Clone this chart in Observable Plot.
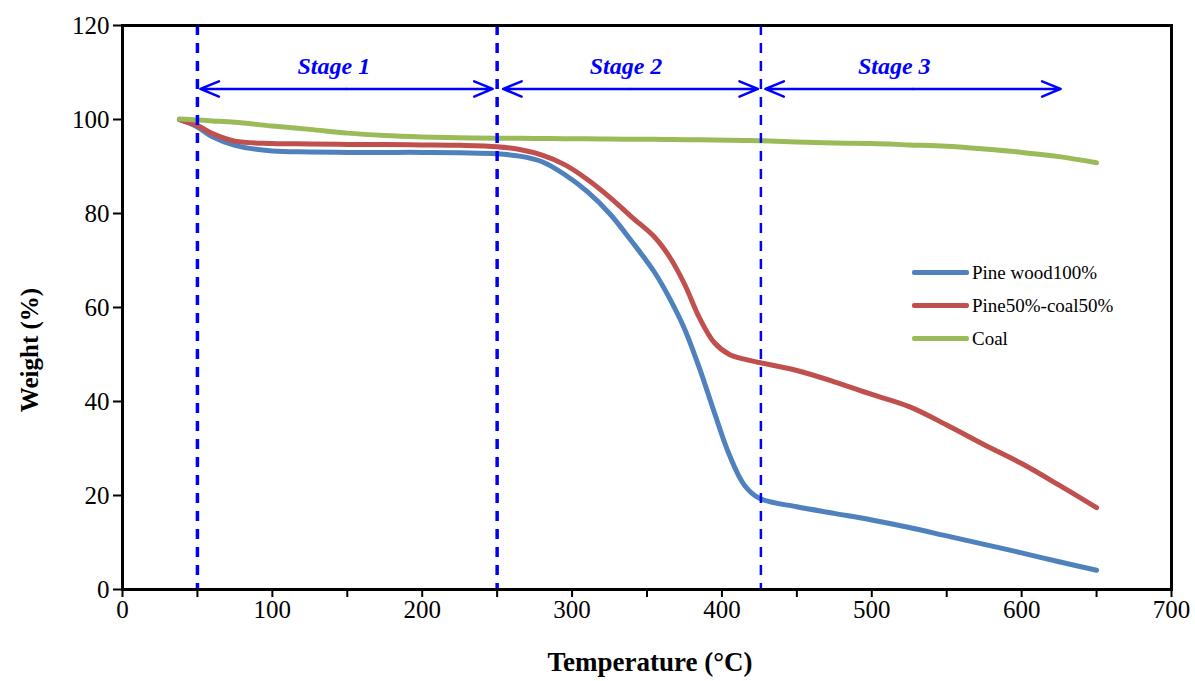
<!DOCTYPE html>
<html><head><meta charset="utf-8">
<script src="https://cdn.jsdelivr.net/npm/d3@7"></script>
<script src="https://cdn.jsdelivr.net/npm/@observablehq/plot@0.6"></script>
<style>
body{margin:0;background:#fff;}
#wrap{position:relative;width:1195px;height:681px;}
.legend{position:absolute;left:912px;top:256px;font-family:"Liberation Serif",serif;font-size:19px;color:#000;}
.legend div{display:flex;align-items:center;height:33px;}
.legend span.sw{display:inline-block;width:57px;height:5px;margin-right:3px;border-radius:2px;}
</style></head><body><div id="wrap"><div id="chart"></div><div class="legend" id="legend"></div></div>
<script>
// ---- data ----
const temps = [38, 50, 60, 75, 100, 125, 150, 175, 200, 225, 250, 265, 280, 295, 310, 325, 340, 355, 365, 375, 385, 395, 405, 415, 425, 450, 475, 500, 525, 550, 575, 600, 625, 650];
const pineWood = [100, 98.4, 96.3, 94.5, 93.3, 93.1, 93.0, 93.0, 93.0, 92.9, 92.7, 92.2, 91.0, 88.3, 84.7, 80.0, 74.0, 67.5, 62.0, 55.5, 47.1, 37.6, 28.6, 22.2, 19.4, 17.6, 16.2, 14.8, 13.2, 11.4, 9.6, 7.8, 5.9, 4.1];
const pineCoal = [100, 98.7, 97.0, 95.4, 94.9, 94.8, 94.7, 94.7, 94.6, 94.5, 94.2, 93.6, 92.4, 90.4, 87.3, 83.5, 79.2, 75.0, 70.8, 65.0, 57.8, 52.5, 50.0, 49.0, 48.3, 46.6, 44.2, 41.5, 38.9, 35.0, 30.8, 26.8, 22.2, 17.4];
const coal = [100.1, 99.9, 99.7, 99.4, 98.6, 97.9, 97.1, 96.6, 96.3, 96.1, 96.0, 96.0, 95.95, 95.9, 95.9, 95.85, 95.8, 95.8, 95.75, 95.7, 95.7, 95.65, 95.6, 95.55, 95.5, 95.2, 95.0, 94.9, 94.6, 94.3, 93.7, 93.0, 92.1, 90.8];
const seriesNames = ["Pine wood100%", "Pine50%-coal50%", "Coal"];
const seriesColors = ["#4F81BD", "#C0504D", "#9BBB59"];

const boundaryTemps = [50, 250, 426];
const boundaryWidths = [3.5, 3.5, 2.5];
const stageNames = ["Stage 1", "Stage 2", "Stage 3"];
const stageStart = [52, 254, 429];
const stageEnd = [247, 424, 626];
const stageLabelX = [141, 336, 515];
const arrowY = 106.5;
const labelY = 111.3;

const xTicks = d3.range(0, 701, 50);
const yTicks = d3.range(0, 121, 20);

// ---- build tables ----
const allSeries = [pineWood, pineCoal, coal];
const rows = [];
allSeries.forEach((vals, s) => temps.forEach((t, i) => rows.push({t, w: vals[i], s: seriesNames[s]})));
const bounds = boundaryTemps.map((x, i) => ({x, sw: boundaryWidths[i]}));
const stages = stageNames.map((n, i) => ({n, a: stageStart[i], b: stageEnd[i], m: (stageStart[i] + stageEnd[i]) / 2, lx: stageLabelX[i]}));

const font = '"Liberation Serif", "Times New Roman", serif';
const chart = Plot.plot({
  width: 1195, height: 681,
  marginLeft: 122, marginRight: 24, marginTop: 25, marginBottom: 92,
  style: {fontFamily: font, fontSize: "25px", color: "#000", background: "#fff"},
  x: {domain: [0, 700]},
  y: {domain: [0, 120]},
  color: {domain: seriesNames, range: seriesColors},
  marks: [
    Plot.line(rows, {x: "t", y: "w", z: "s", stroke: "s", strokeWidth: 5, curve: "catmull-rom"}),
    Plot.ruleX(bounds, {x: "x", stroke: "#0000FF", strokeWidth: "sw", strokeDasharray: "10,8"}),
    Plot.arrow(stages, {x1: "m", x2: "a", y1: arrowY, y2: arrowY, stroke: "#0000FF", strokeWidth: 2.5, headLength: 12, headAngle: 45}),
    Plot.arrow(stages, {x1: "m", x2: "b", y1: arrowY, y2: arrowY, stroke: "#0000FF", strokeWidth: 2.5, headLength: 12, headAngle: 45}),
    Plot.text(stages, {x: "lx", y: labelY, text: "n", fill: "#0000FF", fontStyle: "italic", fontWeight: "bold", fontSize: 24, fontFamily: font}),
    Plot.frame({stroke: "#000", strokeWidth: 3}),
    Plot.axisX({ticks: xTicks, tickFormat: d => d % 100 === 0 ? d : "", tickSize: 8, tickPadding: 3, strokeWidth: 2, label: null, fontSize: 25, fontFamily: font}),
    Plot.axisY({ticks: yTicks, tickSize: 9, tickPadding: 4, strokeWidth: 2, label: null, fontSize: 25, fontFamily: font})
  ]
});
document.getElementById("chart").appendChild(chart);

// ensure tick label size
d3.select(chart).selectAll("g[aria-label='x-axis tick label'], g[aria-label='y-axis tick label']")
  .attr("font-size", 25).attr("font-family", font);

// axis titles
const svg = d3.select(chart);
svg.append("text").attr("x", 650).attr("y", 671).attr("text-anchor", "middle")
  .attr("font-family", font).attr("font-size", 27).attr("font-weight", "bold").text("Temperature (°C)");
svg.append("text").attr("transform", "translate(38,350) rotate(-90)").attr("text-anchor", "middle")
  .attr("font-family", font).attr("font-size", 25).attr("font-weight", "bold").text("Weight (%)");

// legend
const lg = document.getElementById("legend");
seriesNames.forEach((n, i) => {
  const row = document.createElement("div");
  row.innerHTML = `<span class="sw" style="background:${seriesColors[i]}"></span><span>${n}</span>`;
  lg.appendChild(row);
});
</script>
</body></html>
